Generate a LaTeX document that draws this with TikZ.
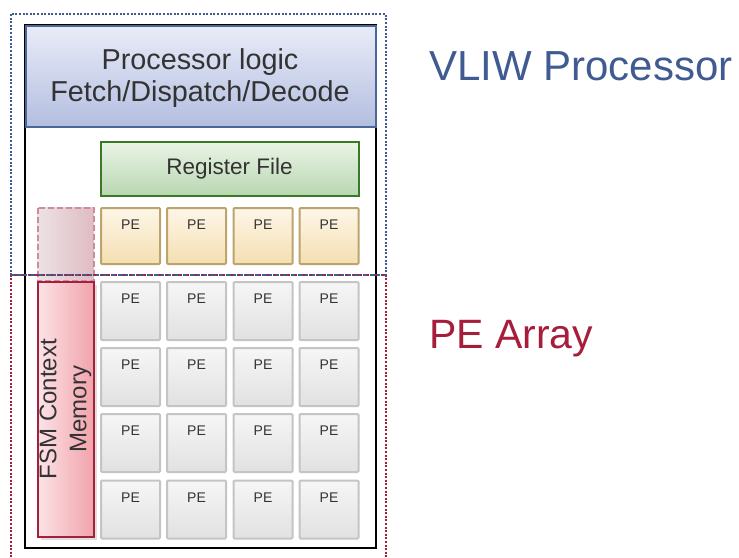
\documentclass[tikz,border=0pt]{standalone}
\usepackage{fontspec}
\setmainfont{Liberation Sans}
\usetikzlibrary{shadows}

\definecolor{vliwblue}{HTML}{3F5B91}
\definecolor{pered}{HTML}{A61E3C}
\definecolor{txtgray}{HTML}{333333}
\definecolor{procedge}{HTML}{4B6799}
\definecolor{proctop}{HTML}{E9ECF8}
\definecolor{procbot}{HTML}{B3BEE0}
\definecolor{regedge}{HTML}{3B7A24}
\definecolor{regtop}{HTML}{EAF4E7}
\definecolor{regbot}{HTML}{B9D7B1}
\definecolor{ypeedge}{HTML}{BCA46C}
\definecolor{ypetop}{HTML}{FDF6E8}
\definecolor{ypebot}{HTML}{F5DFB1}
\definecolor{gpeedge}{HTML}{C4C4C4}
\definecolor{gpetop}{HTML}{F6F6F6}
\definecolor{gpebot}{HTML}{E1E1E1}
\definecolor{fsmedge}{HTML}{A3213D}
\definecolor{fsmleft}{HTML}{FCE3E7}
\definecolor{fsmright}{HTML}{F1A3AB}
\definecolor{ghostedge}{HTML}{D18A9A}
\definecolor{ghostleft}{HTML}{E9DDE0}
\definecolor{ghostright}{HTML}{DAB1B9}

\tikzset{
  box/.style={rectangle, inner sep=0pt, outer sep=0pt, line width=2pt},
  procbox/.style={box, draw=procedge, top color=proctop, bottom color=procbot,
    minimum width=350pt, minimum height=101pt},
  proctext/.style={inner sep=0pt, text=txtgray, align=center,
    font=\fontsize{28.8}{32}\selectfont},
  chipbox/.style={box, draw=black, fill=white, minimum width=351pt, minimum height=523pt,
    line width=2.2pt},
  regbox/.style={box, draw=regedge, top color=regtop, bottom color=regbot,
    minimum width=258pt, minimum height=54pt, text=txtgray,
    font=\fontsize{22.5}{26}\selectfont},
  pebox/.style={box, minimum width=59pt, rounded corners=1pt},
  ypebox/.style={pebox, draw=ypeedge, top color=ypetop, bottom color=ypebot, minimum height=56pt},
  gpebox/.style={pebox, draw=gpeedge, top color=gpetop, bottom color=gpebot, minimum height=58pt},
  pelabel/.style={inner sep=0pt, text=txtgray, font=\fontsize{14}{16}\selectfont},
  fsmbox/.style={box, draw=fsmedge, left color=fsmleft, right color=fsmright,
    minimum width=56pt, minimum height=255pt,
    drop shadow={shadow xshift=3pt, shadow yshift=-3pt, opacity=0.25}},
  fsmtext/.style={inner sep=0pt, rotate=90, align=center, text=txtgray,
    font=\fontsize{24}{30}\selectfont},
  ghostbox/.style={line width=2pt, draw=ghostedge, dash pattern=on 6pt off 3pt,
    left color=ghostleft, right color=ghostright, fill opacity=0.85},
  regionline/.style={line width=2pt, dash pattern=on 2pt off 1.6pt},
  bigtitle/.style={inner sep=0pt, anchor=base west}
}

\begin{document}
\begin{tikzpicture}[x=1pt, y=-1pt]
  \useasboundingbox (0,0) rectangle (739,557);

  % chip outline and processor logic
  \node[chipbox] (chip) at (200.5,286.5) {};
  \node[procbox] (proc) at (200.5,76) {};
  \node[proctext] (proc-t) at (200,78.5) {Processor logic\\Fetch/Dispatch/Decode};

  % register file
  \node[regbox] (reg) at (229.5,168.5) {Register File};

  % PE row fed by the register file
  \foreach \c/\x in {1/130.5, 2/196.5, 3/263, 4/329} {
    \node[ypebox] (pe0\c) at (\x,236) {};
    \node[pelabel] (pe0\c-t) at ([yshift=-17pt]pe0\c.north) {PE};
  }

  % PE array
  \foreach \r/\y in {1/311, 2/377, 3/443, 4/509.5} {
    \foreach \c/\x in {1/130.5, 2/196.5, 3/263, 4/329} {
      \node[gpebox] (pe\r\c) at (\x,\y) {};
      \node[pelabel] (pe\r\c-t) at ([yshift=-17pt]pe\r\c.north) {PE};
    }
  }

  % faded extension of the context memory
  \path[ghostbox] (37.5,207.5) rectangle (93.5,281);

  % FSM context memory
  \node[fsmbox] (fsm) at (65.5,409) {};
  \node[fsmtext] (fsm-t) at (fsm.center) {FSM Context\\Memory};

  % region outlines
  \draw[regionline, draw=vliwblue] (11,14) rectangle (385.5,274.5);
  \draw[regionline, draw=pered] (11,274.5) -- (385.5,274.5);
  \draw[regionline, draw=pered] (11,274.5) -- (11,570);
  \draw[regionline, draw=pered] (385.5,274.5) -- (385.5,570);
  \draw[regionline, draw=vliwblue, dash pattern=on 1.8pt off 5.4pt] (11,274.5) -- (385.5,274.5);

  % region titles
  \node[bigtitle, text=vliwblue, font=\fontsize{42}{48}\selectfont] (vliw) at (429,80) {VLIW Processor};
  \node[bigtitle, text=pered, font=\fontsize{41}{48}\selectfont] (pearray) at (429,348) {PE Array};
\end{tikzpicture}
\end{document}
